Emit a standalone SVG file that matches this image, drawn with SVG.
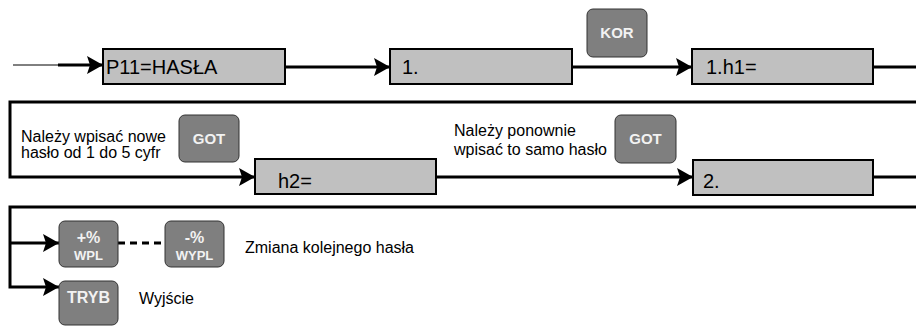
<svg xmlns="http://www.w3.org/2000/svg" width="916" height="326" viewBox="0 0 916 326">
<style>
.box{fill:#c0c0c0;stroke:#000;stroke-width:2}
.btn{fill:#7f7f7f;stroke:#333;stroke-width:1}
.bt{font-family:"Liberation Sans",Arial,sans-serif;font-weight:bold;fill:#f2f2f2;text-anchor:middle}
.lbl{font-family:"Liberation Sans",Arial,sans-serif;font-size:20px;fill:#000}
.note{font-family:"Liberation Sans",Arial,sans-serif;font-size:16px;fill:#000}
.ln{fill:none;stroke:#000;stroke-width:3}
</style>
<defs>
<marker id="ah" markerUnits="userSpaceOnUse" markerWidth="16" markerHeight="18" viewBox="0 0 16 18" refX="16" refY="9" orient="auto">
<path d="M0,0 L16,9 L0,18 L3,9 Z" fill="#000"/>
</marker>
</defs>
<g id="connectors">
<line x1="13" y1="65" x2="58" y2="65" stroke="#000" stroke-width="1"/>
<line class="ln" x1="58" y1="65" x2="103" y2="65" marker-end="url(#ah)"/>
<line class="ln" x1="285" y1="67" x2="390" y2="67" marker-end="url(#ah)"/>
<line class="ln" x1="572" y1="67" x2="692" y2="67" marker-end="url(#ah)"/>
<line class="ln" x1="873" y1="67" x2="916" y2="67"/>
<polyline class="ln" points="916,102 10,102 10,177 255,177" marker-end="url(#ah)"/>
<line class="ln" x1="436" y1="177" x2="693" y2="177" marker-end="url(#ah)"/>
<line class="ln" x1="873" y1="177" x2="916" y2="177"/>
<polyline class="ln" points="916,207 10,207 10,287 59,287" marker-end="url(#ah)"/>
<line class="ln" x1="10" y1="243" x2="59" y2="243" marker-end="url(#ah)"/>
<line class="ln" x1="118" y1="243" x2="165" y2="243" stroke-dasharray="7,5"/>
</g>
<g id="n-p11">
<rect class="box" x="103" y="49" width="182" height="35"/>
<text class="lbl" x="106" y="74">P11=HASŁA</text>
</g>
<g id="n-1">
<rect class="box" x="390" y="49" width="182" height="35"/>
<text class="lbl" x="402" y="74">1.</text>
</g>
<g id="n-kor">
<rect class="btn" x="587" y="9" width="60" height="48" rx="6"/>
<text class="bt" x="617" y="38" font-size="15">KOR</text>
</g>
<g id="n-1h1">
<rect class="box" x="692" y="49" width="181" height="35"/>
<text class="lbl" x="706" y="74">1.h1=</text>
</g>
<g id="t-note1">
<text class="note" x="21" y="142">Należy wpisać nowe</text>
<text class="note" x="21" y="158">hasło od 1 do 5 cyfr</text>
</g>
<g id="n-got1">
<rect class="btn" x="179" y="115" width="60" height="47" rx="6"/>
<text class="bt" x="209" y="144" font-size="15">GOT</text>
</g>
<g id="n-h2">
<rect class="box" x="255" y="159" width="181" height="35"/>
<text class="lbl" x="278" y="188">h2=</text>
</g>
<g id="t-note2">
<text class="note" x="454" y="136">Należy ponownie</text>
<text class="note" x="454" y="155">wpisać to samo hasło</text>
</g>
<g id="n-got2">
<rect class="btn" x="615" y="115" width="61" height="48" rx="6"/>
<text class="bt" x="645.5" y="144" font-size="15">GOT</text>
</g>
<g id="n-2">
<rect class="box" x="693" y="160" width="180" height="35"/>
<text class="lbl" x="703" y="188">2.</text>
</g>
<g id="n-wpl">
<rect class="btn" x="59" y="221" width="59" height="46" rx="6"/>
<text class="bt" x="88.5" y="243" font-size="16">+%</text>
<text class="bt" x="88.5" y="260" font-size="13">WPL</text>
</g>
<g id="n-wypl">
<rect class="btn" x="165" y="221" width="59" height="46" rx="6"/>
<text class="bt" x="194.5" y="243" font-size="16">-%</text>
<text class="bt" x="194.5" y="260" font-size="13">WYPL</text>
</g>
<text class="note" x="245" y="253">Zmiana kolejnego hasła</text>
<g id="n-tryb">
<rect class="btn" x="59" y="281" width="59" height="44" rx="6"/>
<text class="bt" x="88.5" y="303" font-size="16">TRYB</text>
</g>
<text class="note" x="139" y="304">Wyjście</text>
</svg>
